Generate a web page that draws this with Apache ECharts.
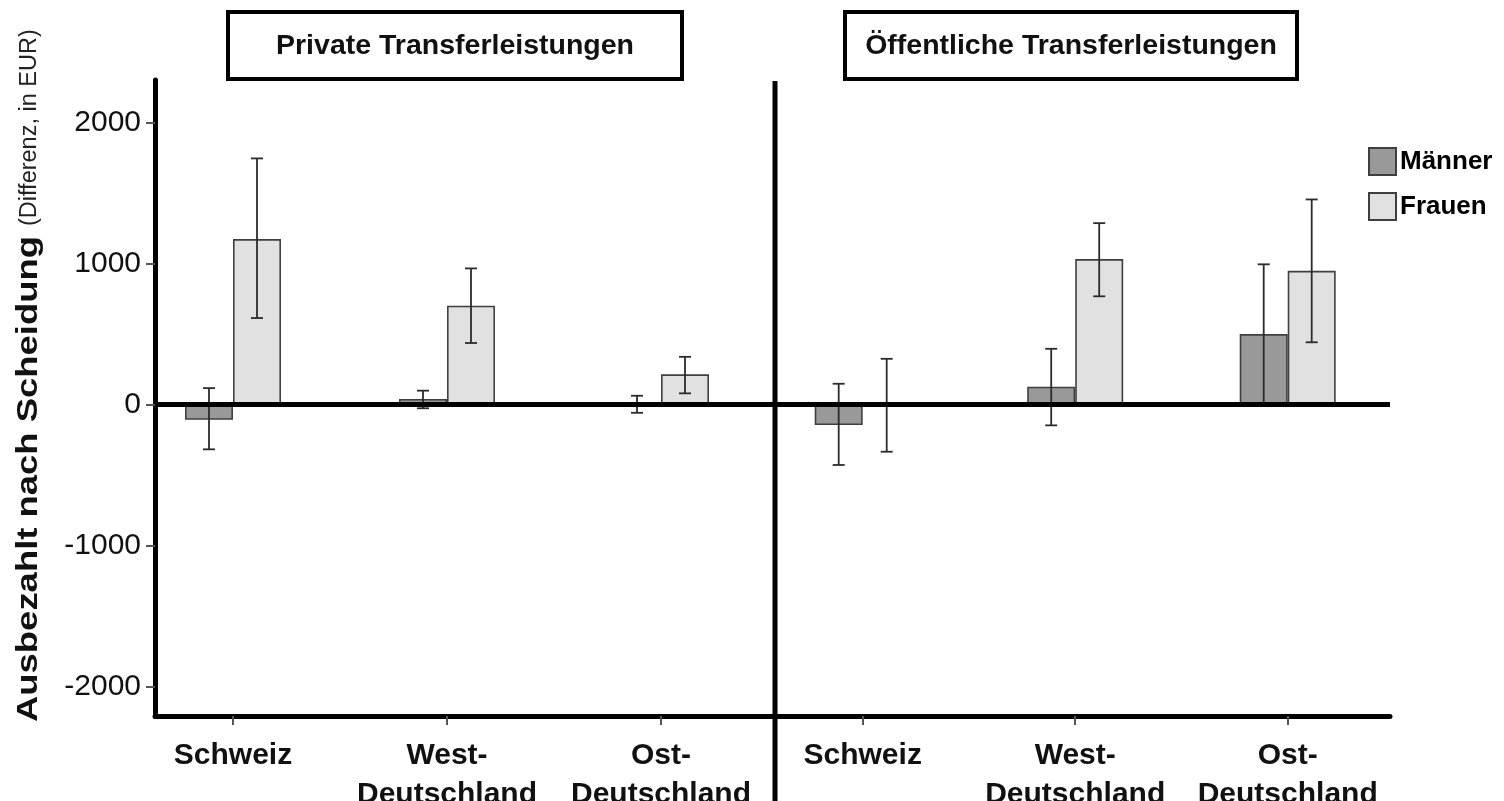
<!DOCTYPE html>
<html>
<head>
<meta charset="utf-8">
<script src="https://cdn.jsdelivr.net/npm/echarts@6/dist/echarts.min.js"></script>
<style>
  html, body { margin: 0; padding: 0; background: #fff; }
  #chart { width: 1504px; height: 801px; }
</style>
</head>
<body>
<div id="chart"></div>
<script>
// Regions (categories) shown in each panel
const regions = ['Schweiz', 'West-\nDeutschland', 'Ost-\nDeutschland'];
const panelTitles = ['Private Transferleistungen', 'Öffentliche Transferleistungen'];
const sexes = ['Männer', 'Frauen'];
const yTicks = [-2000, -1000, 0, 1000, 2000];
const yTitleMain = 'Ausbezahlt nach Scheidung';
const yTitleUnit = '(Differenz, in EUR)';

// Private transfers: mean difference and 95% interval (EUR)
const privMen      = [-110, 38, 0];
const privMenLo    = [-319, -28, -60];
const privMenHi    = [115, 97, 61];
const privWomen    = [1172, 699, 213];
const privWomenLo  = [612, 435, 78];
const privWomenHi  = [1744, 964, 337];

// Public transfers: mean difference and 95% interval (EUR)
const pubMen       = [-147, 125, 498];
const pubMenLo     = [-430, -149, 3];
const pubMenHi     = [146, 394, 993];
const pubWomen     = [0, 1030, 947];
const pubWomenLo   = [-336, 766, 440];
const pubWomenHi   = [323, 1285, 1453];

const FONT = "'Liberation Sans', Arial, Helvetica, sans-serif";
const BAR_W = 48;
const MEN_FILL = '#999999';
const WOMEN_FILL = '#e1e1e1';
const EDGE = '#3f3f3f';

const chart = echarts.init(document.getElementById('chart'));

function barData(vals) {
  return vals.map((v, i) => [i, v]);
}
function errData(lo, hi) {
  return lo.map((l, i) => [i, l, hi[i]]);
}

// I-beam error bar, shifted to the centre of its bar
function errorRenderer(shift) {
  return function (params, api) {
    const i = api.value(0);
    const base = api.coord([i, 0]);
    const x = base[0] + shift;
    const yLo = api.coord([i, api.value(1)])[1];
    const yHi = api.coord([i, api.value(2)])[1];
    const cap = 6;
    const st = { stroke: '#2b2b2b', lineWidth: 1.8 };
    return {
      type: 'group',
      children: [
        { type: 'line', shape: { x1: x, y1: yHi, x2: x, y2: yLo }, style: st },
        { type: 'line', shape: { x1: x - cap, y1: yHi, x2: x + cap, y2: yHi }, style: st },
        { type: 'line', shape: { x1: x - cap, y1: yLo, x2: x + cap, y2: yLo }, style: st }
      ]
    };
  };
}

function barSeries(name, vals, fill, axisIdx) {
  return {
    name: name,
    type: 'bar',
    xAxisIndex: axisIdx,
    yAxisIndex: axisIdx,
    data: barData(vals),
    barWidth: BAR_W,
    barGap: '0%',
    itemStyle: { color: fill, borderColor: EDGE, borderWidth: 1.6 },
    emphasis: { disabled: true },
    z: 2
  };
}

function errSeries(name, lo, hi, shift, axisIdx) {
  return {
    name: name,
    type: 'custom',
    xAxisIndex: axisIdx,
    yAxisIndex: axisIdx,
    data: errData(lo, hi),
    renderItem: errorRenderer(shift),
    silent: true,
    z: 4
  };
}

function zeroLine(axisIdx) {
  return {
    name: 'zero' + axisIdx,
    type: 'line',
    xAxisIndex: axisIdx,
    yAxisIndex: axisIdx,
    data: [],
    silent: true,
    z: 3,
    markLine: {
      silent: true,
      symbol: 'none',
      label: { show: false },
      lineStyle: { color: '#000', width: 5, type: 'solid' },
      data: [{ yAxis: 0 }]
    }
  };
}

function xAxisFor(gridIdx, min, max) {
  return {
    type: 'value',
    gridIndex: gridIdx,
    min: min,
    max: max,
    splitLine: { show: false },
    axisLine: { show: true, onZero: false, lineStyle: { color: '#000', width: 5 } },
    axisTick: { show: true, customValues: [0, 1, 2], length: 9, lineStyle: { color: '#555', width: 2 } },
    axisLabel: {
      show: true,
      customValues: [0, 1, 2],
      formatter: v => regions[Math.round(v)],
      margin: 20,
      fontFamily: FONT,
      fontWeight: 'bold',
      fontSize: 30,
      lineHeight: 39,
      color: '#111',
      align: 'center',
      verticalAlign: 'top'
    }
  };
}

function yAxisFor(gridIdx, visible) {
  return {
    type: 'value',
    gridIndex: gridIdx,
    min: -2210,
    max: 2300,
    splitLine: { show: false },
    axisLine: { show: visible, onZero: false, lineStyle: { color: '#000', width: 5 } },
    axisTick: { show: visible, customValues: yTicks, length: 9, lineStyle: { color: '#555', width: 2 } },
    axisLabel: {
      show: visible,
      customValues: yTicks,
      formatter: v => String(v),
      margin: 14,
      fontFamily: FONT,
      fontSize: 30,
      color: '#111'
    }
  };
}

const option = {
  animation: false,
  backgroundColor: '#fff',
  grid: [
    { left: 155, width: 620, top: 80, height: 636, containLabel: false, outerBoundsMode: 'none' },
    { left: 775, width: 615, top: 80, height: 636, containLabel: false, outerBoundsMode: 'none' }
  ],
  xAxis: [xAxisFor(0, -0.3645, 2.5327), xAxisFor(1, -0.4127, 2.4814)],
  yAxis: [yAxisFor(0, true), yAxisFor(1, false)],
  legend: {
    data: sexes,
    orient: 'vertical',
    left: 1368,
    top: 147,
    padding: 0,
    itemWidth: 27,
    itemHeight: 27,
    itemGap: 16,
    icon: 'rect',
    selectedMode: false,
    textStyle: { fontFamily: FONT, fontWeight: 'bold', fontSize: 26, color: '#000', padding: [0, 0, 0, -1] }
  },
  graphic: [
    // panel divider
    { type: 'line', shape: { x1: 775, y1: 81, x2: 775, y2: 801 }, style: { stroke: '#000', lineWidth: 5 }, z: 10 },
    // panel title boxes
    { type: 'rect', shape: { x: 228, y: 12, width: 454, height: 67 }, style: { fill: '#fff', stroke: '#000', lineWidth: 4 } },
    { type: 'text', x: 455, y: 46, style: { text: panelTitles[0], font: 'bold 28.5px ' + FONT, fill: '#111', textAlign: 'center', textVerticalAlign: 'middle' } },
    { type: 'rect', shape: { x: 845, y: 12, width: 452, height: 67 }, style: { fill: '#fff', stroke: '#000', lineWidth: 4 } },
    { type: 'text', x: 1071, y: 46, style: { text: panelTitles[1], font: 'bold 28.5px ' + FONT, fill: '#111', textAlign: 'center', textVerticalAlign: 'middle' } },
    // y axis title, read bottom-to-top: bold main part then the unit in regular weight
    {
      type: 'text',
      x: 29,
      y: 722,
      rotation: Math.PI / 2,
      scaleX: 1.215,
      style: {
        text: yTitleMain,
        font: 'bold 30px ' + FONT,
        fill: '#111',
        textAlign: 'left',
        textVerticalAlign: 'middle'
      }
    },
    {
      type: 'text',
      x: 30,
      y: 226,
      rotation: Math.PI / 2,
      style: {
        text: yTitleUnit,
        font: '23.5px ' + FONT,
        fill: '#222',
        textAlign: 'left',
        textVerticalAlign: 'middle'
      }
    }
  ],
  series: [
    barSeries(sexes[0], privMen, MEN_FILL, 0),
    barSeries(sexes[1], privWomen, WOMEN_FILL, 0),
    errSeries('errPrivMen', privMenLo, privMenHi, -BAR_W / 2, 0),
    errSeries('errPrivWomen', privWomenLo, privWomenHi, BAR_W / 2, 0),
    zeroLine(0),
    barSeries(sexes[0], pubMen, MEN_FILL, 1),
    barSeries(sexes[1], pubWomen, WOMEN_FILL, 1),
    errSeries('errPubMen', pubMenLo, pubMenHi, -BAR_W / 2, 1),
    errSeries('errPubWomen', pubWomenLo, pubWomenHi, BAR_W / 2, 1),
    zeroLine(1)
  ]
};

chart.setOption(option);
</script>
</body>
</html>
